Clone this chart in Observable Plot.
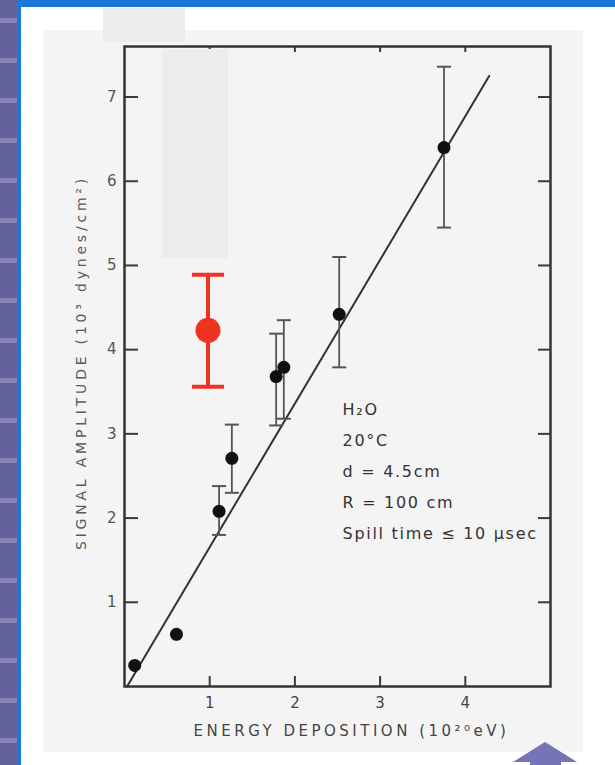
<!DOCTYPE html>
<html>
<head>
<meta charset="utf-8">
<script src="https://cdn.jsdelivr.net/npm/d3@7"></script>
<script src="https://cdn.jsdelivr.net/npm/@observablehq/plot@0.6"></script>
<style>
  html, body { margin: 0; padding: 0; background: #fff; }
  #wrap { position: relative; width: 615px; height: 765px; overflow: hidden; background: #fff; }
  .deco { position: absolute; }
  #chart { position: absolute; left: 0; top: 0; }
</style>
</head>
<body>
<div id="wrap">
  <div class="deco" style="left:0;top:0;width:17px;height:765px;background:#63629a;"></div>
  <div id="stripes"></div>
  <div class="deco" style="left:17px;top:0;width:4px;height:765px;background:#1a78d8;"></div>
  <div class="deco" style="left:17px;top:0;width:598px;height:7px;background:#1a78d8;"></div>
  <div class="deco" style="left:43px;top:30px;width:540px;height:722px;background:#f4f4f4;"></div>
  <div class="deco" style="left:103px;top:8px;width:82px;height:34px;background:#ececec;"></div>
  <div id="chart"></div>
  <div class="deco" style="left:162px;top:49px;width:66px;height:209px;background:#ececec;"></div>
  <svg class="deco" style="left:0;top:0" width="615" height="765">
    <polygon points="545,742 513,762 530,762 530,765 561,765 561,762 577,762" fill="#7474b6"/>
  </svg>
</div>
<script>
// ---- data ----
const energy    = [0.12, 0.61, 1.11, 1.26, 1.78, 1.87, 2.52, 3.75];   // 10^20 eV
const amplitude = [0.25, 0.62, 2.08, 2.71, 3.68, 3.79, 4.42, 6.40];   // 10^3 dynes/cm^2
const errLow    = [null, null, 1.80, 2.30, 3.10, 3.18, 3.79, 5.45];
const errHigh   = [null, null, 2.38, 3.11, 4.19, 4.35, 5.10, 7.36];

const redEnergy = [0.98];
const redAmp    = [4.23];
const redLow    = [3.56];
const redHigh   = [4.89];

const fitX = [0.03, 4.28];
const fitY = [0.00, 7.25];

const xTicks = [1, 2, 3, 4];
const yTicks = [1, 2, 3, 4, 5, 6, 7];

const xLabel = "ENERGY DEPOSITION (10²⁰eV)";
const yLabel = "SIGNAL AMPLITUDE (10³ dynes/cm²)";
const annotation = "H₂O\n20°C\nd = 4.5cm\nR = 100 cm\nSpill time ≤ 10 µsec";
const annotationAt = [2.56, 3.49];

// ---- tables ----
const points = energy.map((x, i) => ({x, y: amplitude[i], lo: errLow[i], hi: errHigh[i]}));
const withErr = points.filter(d => d.lo != null);
const red = redEnergy.map((x, i) => ({x, y: redAmp[i], lo: redLow[i], hi: redHigh[i]}));
const fit = fitX.map((x, i) => ({x, y: fitY[i]}));

const cap = {draw(ctx, size) { const w = Math.sqrt(size / Math.PI); ctx.moveTo(-w, 0); ctx.lineTo(w, 0); }};

const W = 615, H = 765, mL = 124, mR = 65, mT = 46, mB = 79;
const fw = W - mL - mR, fh = H - mT - mB;
const ink = "#3a3a3a";

const chart = Plot.plot({
  width: W, height: H,
  marginLeft: mL, marginRight: mR, marginTop: mT, marginBottom: mB,
  x: {domain: [0, 5], axis: null},
  y: {domain: [0, 7.6], axis: null},
  style: {background: "transparent", fontFamily: "DejaVu Sans", color: ink},
  marks: [
    Plot.tickY(yTicks, {y: d => d, insetRight: fw - 14, stroke: ink, strokeWidth: 2}),
    Plot.tickY(yTicks, {y: d => d, insetLeft: fw - 12, stroke: ink, strokeWidth: 2}),
    Plot.tickX(xTicks, {x: d => d, insetTop: fh - 10, stroke: ink, strokeWidth: 2}),
    Plot.tickX(xTicks, {x: d => d, insetBottom: fh - 6, stroke: ink, strokeWidth: 2}),
    Plot.frame({stroke: "#333", strokeWidth: 2.5}),
    Plot.axisY({ticks: yTicks, tickFormat: "d", tickSize: 0, tickPadding: 8, fontSize: 15, label: null, fill: "#555"}),
    Plot.axisX({ticks: xTicks, tickFormat: "d", tickSize: 0, tickPadding: 11, fontSize: 15, label: null, fill: "#444"}),
    Plot.text([yLabel], {text: d => d, frameAnchor: "left", textAnchor: "middle", dx: -43, dy: -4, rotate: -90, fontSize: 14, fill: "#5a5a5a"}),
    Plot.text([xLabel], {text: d => d, frameAnchor: "bottom", textAnchor: "middle", dx: 14, dy: 49, fontSize: 15, fill: "#444"}),
    Plot.line(fit, {x: "x", y: "y", stroke: "#333", strokeWidth: 2}),
    Plot.ruleX(withErr, {x: "x", y1: "lo", y2: "hi", stroke: "#555", strokeWidth: 1.8}),
    Plot.dot(withErr, {x: "x", y: "lo", symbol: cap, r: 7, fill: "none", stroke: "#555", strokeWidth: 2}),
    Plot.dot(withErr, {x: "x", y: "hi", symbol: cap, r: 7, fill: "none", stroke: "#555", strokeWidth: 2}),
    Plot.dot(points, {x: "x", y: "y", r: 6.5, fill: "#111"}),
    Plot.ruleX(red, {x: "x", y1: "lo", y2: "hi", stroke: "#ee3322", strokeWidth: 4}),
    Plot.dot(red, {x: "x", y: "lo", symbol: cap, r: 16, fill: "none", stroke: "#ee3322", strokeWidth: 4}),
    Plot.dot(red, {x: "x", y: "hi", symbol: cap, r: 16, fill: "none", stroke: "#ee3322", strokeWidth: 4}),
    Plot.dot(red, {x: "x", y: "y", r: 12.5, fill: "#ee3322"}),
    Plot.text([annotation], {x: () => annotationAt[0], y: () => annotationAt[1], text: d => d,
      textAnchor: "start", lineAnchor: "top", lineHeight: 1.94, fontSize: 16, fill: "#333"})
  ]
});
document.getElementById("chart").appendChild(chart);

// letter spacing for the wide labels of the scanned figure
chart.querySelectorAll("text").forEach(t => {
  if (t.textContent === yLabel) t.style.letterSpacing = "3.8px";
  if (t.textContent === xLabel) t.style.letterSpacing = "3.5px";
  if (t.textContent.startsWith("H₂O")) t.style.letterSpacing = "1.7px";
});

// left strip pattern
const stripes = document.getElementById("stripes");
for (let y = 18; y < 765; y += 40) {
  const s = document.createElement("div");
  s.className = "deco";
  s.style.cssText = `left:0;top:${y}px;width:17px;height:5px;background:#8483b4;`;
  stripes.appendChild(s);
}
</script>
</body>
</html>
